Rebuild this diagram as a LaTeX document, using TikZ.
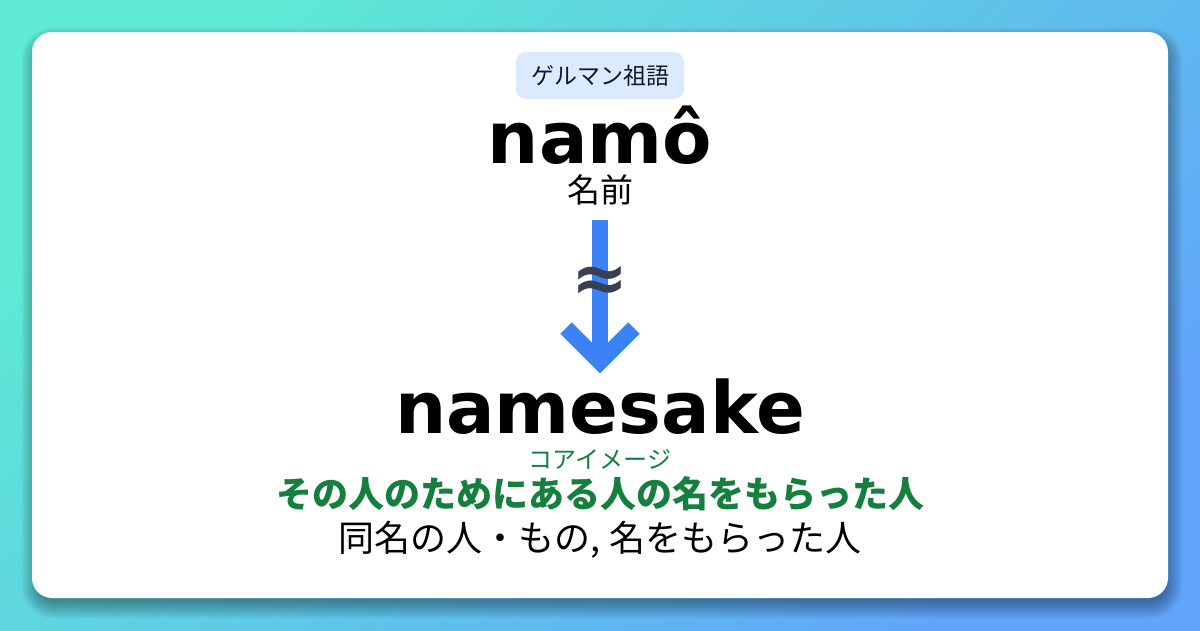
\documentclass[tikz,border=0pt]{standalone}
\usepackage{fontspec}
\setmainfont{DejaVu Sans}
\newfontfamily\jp{Noto Sans CJK JP}
\definecolor{bgA}{HTML}{5EEAD4}
\definecolor{bgB}{HTML}{60A5FA}
\definecolor{pill}{HTML}{DBEAFE}
\definecolor{labeltext}{HTML}{111827}
\definecolor{arrowc}{HTML}{3B82F6}
\definecolor{approxc}{HTML}{374151}
\definecolor{coregreen}{HTML}{15803D}
\tikzset{
  headword/.style={anchor=base, font=\fontsize{72}{72}\bfseries\selectfont, text=black, inner sep=0},
  jptext/.style={font=\jp\fontsize{#1}{#1}\selectfont, inner sep=0},
  jpbold/.style={font=\jp\bfseries\fontsize{#1}{#1}\selectfont, inner sep=0},
  shaftline/.style={draw=arrowc, line width=16},
}
\begin{document}
\begin{tikzpicture}[x=1pt,y=-1pt]
\useasboundingbox (0,0) rectangle (1200,630);
\shade[top color=bgA, bottom color=bgB, shading angle=45] (0,0) rectangle (1200,630);
% shadow
\foreach \s in {-4,-2,...,12}{
  \fill[black, opacity=0.045, rounded corners=20+\s] (32-\s+2,32-\s+8) rectangle (1168+\s+2,598+\s+8);
}
% card
\fill[white, rounded corners=20] (32,32) rectangle (1168,598);
% label pill
\node[fill=pill, rounded corners=10, minimum width=168, minimum height=47, inner sep=0,
      jptext=23, text=labeltext] (lbl) at (600,75.5) {ゲルマン祖語};
% origin word
\node[headword] (w1) at (600,163) {namô};
\node[jptext=33] (m1) at (600,189.5) {名前};
% arrow
\coordinate (a0) at (600,220);
\coordinate (a1) at (600,362);
\draw[shaftline] (a0) -- (a1);
\draw[shaftline, miter limit=10] ([shift={(-34,-34)}]a1) -- (a1) -- ([shift={(34,-34)}]a1);
\node[font=\fontsize{68}{68}\bfseries\selectfont, text=approxc, inner sep=0] (ap) at (600,284) {≈};
% target word
\node[headword] (w2) at (600,433) {namesake};
\node[jptext=24, text=coregreen] (ci) at (600,459) {コアイメージ};
\node[jpbold=36, text=coregreen] (core) at (600,494) {その人のためにある人の名をもらった人};
\node[jptext=36] (mean) at (600,540) {同名の人・もの, 名をもらった人};
\end{tikzpicture}
\end{document}
